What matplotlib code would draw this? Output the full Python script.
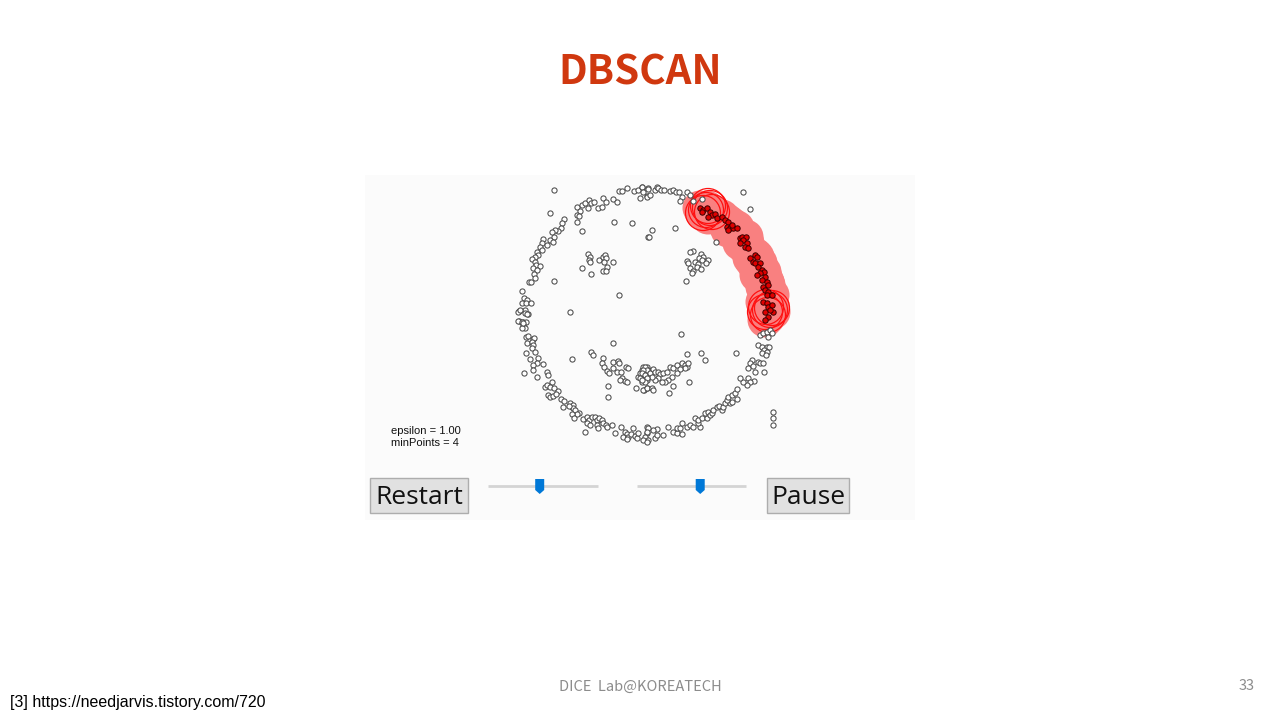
import matplotlib
matplotlib.use("Agg")
import matplotlib.pyplot as plt
from matplotlib.patches import Circle, Rectangle, Polygon

# points, in screen pixels (x right, y down)
top_arc = [
    (554, 190), (550, 213), (577, 207), (580, 211), (577, 215), (582, 205), (585, 203),
    (589, 200), (591, 203), (588, 208), (594, 202), (598, 208), (602, 207), (603, 198),
    (606, 202), (613, 199), (617, 202), (619, 191), (622, 191), (627, 188), (634, 191),
    (638, 190), (640, 198), (642, 187), (647, 196), (648, 188), (577, 222), (579, 216),
    (582, 231), (614, 222), (632, 223), (648, 237), (642, 187), (643, 192), (648, 189),
    (647, 197), (650, 195), (655, 190), (657, 187), (658, 188), (661, 190), (664, 190),
    (670, 191), (673, 190), (676, 192), (679, 192), (682, 197), (680, 201), (687, 192),
    (690, 195), (693, 201), (702, 199), (743, 192), (750, 209), (675, 228), (652, 230),
    (649, 237), (716, 242),
]
left_arc = [
    (564, 219), (562, 223), (561, 228), (558, 231), (555, 230), (552, 232), (554, 237),
    (550, 240), (553, 242), (543, 239), (542, 243), (547, 245), (540, 247), (537, 252),
    (542, 250), (538, 255), (535, 257), (532, 259), (535, 262), (536, 265), (540, 266),
    (533, 268), (537, 270), (534, 274), (535, 278), (529, 282), (531, 282), (522, 291),
    (524, 298), (527, 300), (522, 303), (526, 303), (531, 303), (519, 311), (525, 310),
    (528, 314), (519, 321), (523, 322), (526, 322), (518, 312), (520, 310), (525, 313),
    (527, 314), (518, 321), (522, 322), (523, 325), (525, 328), (522, 328), (523, 323),
    (526, 337), (528, 336), (533, 339), (534, 338), (527, 343), (532, 342), (533, 345),
    (532, 348), (535, 352), (526, 353), (530, 359), (538, 358), (537, 363), (543, 364),
    (533, 365), (533, 370), (547, 372), (524, 373), (548, 375), (537, 377), (552, 382),
    (545, 387), (547, 385), (550, 387), (554, 388), (558, 391), (548, 395), (550, 397),
    (553, 396), (556, 394),
]
bottom_arc = [
    (561, 399), (564, 401), (563, 407), (570, 403), (572, 407), (573, 405), (573, 408),
    (569, 406), (575, 410), (579, 413), (577, 414), (572, 414), (574, 418), (583, 419),
    (587, 417), (589, 420), (592, 417), (595, 417), (597, 420), (587, 423), (590, 425),
    (597, 425), (599, 418), (602, 420), (603, 423), (606, 425), (598, 428), (607, 427),
    (612, 425), (585, 432), (615, 433), (621, 427), (625, 432), (627, 434), (623, 437),
    (628, 437), (631, 434), (633, 428), (635, 436), (637, 438), (627, 439), (638, 433),
    (647, 427), (647, 433), (647, 440), (668, 427), (657, 429), (653, 430), (648, 428),
    (647, 432), (645, 437), (648, 440), (655, 438), (657, 435), (663, 435), (643, 440),
    (647, 442), (673, 432), (677, 433), (682, 434), (677, 428), (680, 428), (682, 423),
    (687, 427), (690, 425), (693, 427), (700, 427), (698, 423), (695, 418), (698, 420),
    (702, 418), (707, 418), (705, 413), (708, 412), (710, 415), (712, 413), (713, 410),
    (717, 407), (719, 406), (722, 410), (723, 407), (725, 403), (730, 403), (732, 402),
    (737, 399), (727, 400), (728, 397), (732, 395), (735, 393), (737, 389),
]
right_arc = [
    (760, 335), (763, 333), (767, 332), (770, 330), (772, 333), (768, 337), (758, 345),
    (762, 347), (767, 347), (769, 347), (764, 350), (767, 352), (762, 353), (766, 355),
    (758, 362), (760, 363), (763, 363), (752, 360), (750, 363), (748, 368), (753, 366),
    (755, 372), (764, 372), (754, 381), (748, 378), (750, 382), (747, 385), (743, 382),
    (740, 378), (773, 412), (773, 418), (773, 425),
]
eyes = [
    (588, 254), (590, 257), (589, 260), (590, 262), (582, 268), (591, 274), (599, 260),
    (603, 257), (605, 255), (606, 258), (604, 262), (607, 267), (603, 271), (606, 271),
    (613, 262), (693, 251), (690, 252), (701, 254), (703, 257), (699, 258), (687, 261),
    (688, 263), (695, 262), (698, 264), (702, 260), (708, 260), (706, 263), (697, 267),
    (690, 268), (693, 271), (692, 273), (701, 269), (686, 281),
]
mouth = [
    (613, 343), (591, 352), (593, 355), (572, 359), (603, 358), (602, 363), (604, 367),
    (607, 371), (609, 373), (613, 362), (618, 361), (619, 363), (613, 368), (617, 372),
    (621, 372), (626, 367), (628, 368), (622, 378), (625, 381), (620, 380), (627, 382),
    (608, 386), (608, 397), (636, 388), (638, 377), (640, 373), (642, 370), (643, 367),
    (647, 367), (645, 375), (647, 380), (642, 382), (644, 390), (647, 388), (648, 370),
    (640, 378), (645, 367), (647, 370), (643, 370), (642, 373), (645, 375), (650, 373),
    (653, 369), (655, 372), (658, 372), (660, 374), (663, 373), (667, 372), (670, 367),
    (673, 368), (677, 365), (682, 363), (685, 365), (687, 367), (688, 363), (685, 368),
    (680, 369), (677, 373), (672, 377), (668, 380), (665, 382), (662, 382), (658, 378),
    (655, 380), (652, 377), (647, 378), (645, 382), (642, 380), (643, 390), (647, 388),
    (652, 388), (653, 390), (669, 393), (673, 386), (689, 382), (681, 334), (687, 354),
    (701, 353), (705, 360), (736, 353), (554, 281), (619, 295), (570, 312),
]
cluster = [
    (700, 208), (703, 210), (702, 212), (707, 208), (710, 212), (712, 215), (708, 217),
    (715, 214), (717, 218), (722, 217), (725, 220), (728, 222), (727, 227), (730, 228),
    (733, 228), (732, 225), (737, 228), (728, 230), (740, 238), (742, 237), (746, 237),
    (743, 240), (740, 243), (747, 243), (745, 247), (748, 248), (755, 255), (757, 257),
    (750, 258), (753, 262), (755, 263), (760, 263), (758, 267), (762, 270), (764, 272),
    (760, 273), (757, 275), (765, 277), (762, 280), (767, 282), (763, 287), (768, 285),
    (765, 290), (768, 292), (767, 295), (772, 295), (763, 302), (767, 303), (768, 307),
    (772, 305), (773, 312), (765, 312), (770, 310), (768, 317), (765, 320),
]
rings = [
    (706, 210), (710, 208), (712, 212), (703, 213), (708, 206),
    (765, 312), (770, 310), (768, 315), (772, 308), (766, 307),
]
eps_px = 17.5
slider_eps = 0.47
slider_speed = 0.58

fig = plt.figure(figsize=(12.8, 7.2), dpi=100)
ax = fig.add_axes([0, 0, 1, 1])
ax.set_xlim(0, 1280)
ax.set_ylim(720, 0)
ax.set_aspect("equal")
ax.axis("off")

# app window
ax.add_patch(Rectangle((365, 175), 550, 345, facecolor="#fbfbfb", edgecolor="none", zorder=0))

# epsilon neighbourhoods of the growing cluster
for cx, cy in cluster:
    ax.add_patch(Circle((cx, cy), eps_px, facecolor="#f98080", edgecolor="none", zorder=1))
for cx, cy in rings:
    ax.add_patch(Circle((cx, cy), eps_px, facecolor="none", edgecolor="#ff1010", lw=0.9, zorder=2))

noise = top_arc + left_arc + bottom_arc + right_arc + eyes + mouth
ax.scatter([p[0] for p in noise], [p[1] for p in noise], s=14, facecolor="white",
           edgecolor="#4a4a4a", linewidth=0.75, zorder=3)
ax.scatter([p[0] for p in cluster], [p[1] for p in cluster], s=15, facecolor="#e00000",
           edgecolor="#3a0000", linewidth=0.7, zorder=4)

ax.text(391, 431, "epsilon = 1.00", fontsize=8, family="Liberation Sans", va="center", color="#111111")
ax.text(391, 443, "minPoints = 4", fontsize=8, family="Liberation Sans", va="center", color="#111111")

# buttons
for x0, w, label in [(370, 98, "Restart"), (767, 82, "Pause")]:
    ax.add_patch(Rectangle((x0, 478), w, 35, facecolor="#e1e1e1", edgecolor="#adadad", lw=1, zorder=2))
    ax.text(x0 + w / 2, 497, label, fontsize=19, family="Open Sans", ha="center", va="center",
            color="#111111", zorder=3)

# sliders
for x0, x1, frac in [(488, 598, slider_eps), (637, 746, slider_speed)]:
    ax.plot([x0, x1], [486, 486], color="#d4d4d4", lw=2, solid_capstyle="butt", zorder=2)
    tx = x0 + frac * (x1 - x0)
    ax.add_patch(Polygon([(tx - 4.5, 479), (tx + 4.5, 479), (tx + 4.5, 490), (tx, 494), (tx - 4.5, 490)],
                         closed=True, facecolor="#0078d7", edgecolor="none", zorder=3))

# slide text
ax.text(640, 73, "DBSCAN", fontsize=29, fontweight="bold", family="Noto Sans CJK KR",
        color="#d0380f", ha="center", va="center")
ax.text(640, 687, "DICE  Lab@KOREATECH", fontsize=10.5, family="Noto Sans CJK KR",
        color="#8c8c8c", ha="center", va="center")
ax.text(1247, 686, "33", fontsize=10.5, family="Noto Sans CJK KR", color="#8c8c8c",
        ha="center", va="center")
ax.text(10, 703, "[3] https://needjarvis.tistory.com/720", fontsize=11.5, family="Liberation Sans",
        color="#000000", ha="left", va="center")

fig.savefig("out.png", dpi=100, facecolor="white")
